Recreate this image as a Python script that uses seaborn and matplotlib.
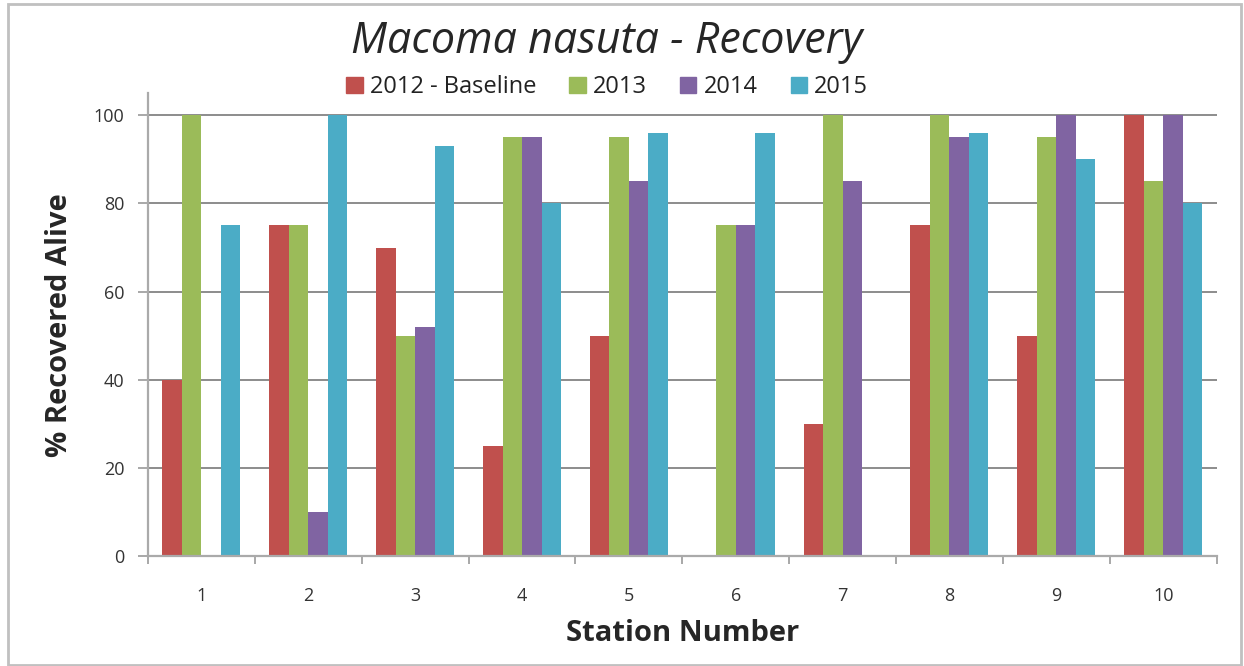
import pandas as pd
import matplotlib.pyplot as plt
import seaborn as sns
from matplotlib.patches import Rectangle
from matplotlib.ticker import MultipleLocator

# data
stations = ['1', '2', '3', '4', '5', '6', '7', '8', '9', '10']
years = ['2012 - Baseline', '2013', '2014', '2015']
y2012 = [40, 75, 70, 25, 50, 0, 30, 75, 50, 100]
y2013 = [100, 75, 50, 95, 95, 75, 100, 100, 95, 85]
y2014 = [0, 10, 52, 95, 85, 75, 85, 95, 100, 100]
y2015 = [75, 100, 93, 80, 96, 96, 0, 96, 90, 80]
colors = ['#C0504D', '#9BBB59', '#8064A2', '#4BACC6']

rows = []
for year, vals in zip(years, [y2012, y2013, y2014, y2015]):
    for st, v in zip(stations, vals):
        rows.append({'Station': st, 'Year': year, 'Value': v})
df = pd.DataFrame(rows)

sns.set_style('white')
plt.rcParams['font.family'] = ['Open Sans', 'DejaVu Sans']

fig = plt.figure(figsize=(12.44, 6.66), dpi=100)
ax = fig.add_axes([0.119, 0.165, 0.859, 0.695])

sns.barplot(data=df, x='Station', y='Value', hue='Year', order=stations,
            hue_order=years, palette=colors, width=0.73, saturation=1,
            linewidth=0, ax=ax)

ax.set_ylim(0, 105)
ax.set_xlim(-0.5, 9.5)
ax.set_yticks(range(0, 101, 20))
ax.yaxis.grid(True, color='#8c8c8c', linewidth=1.4)
ax.set_axisbelow(True)
ax.xaxis.set_minor_locator(MultipleLocator(1, offset=0.5))
ax.set_xticks(range(len(stations)))
ax.set_xticklabels(stations)
ax.tick_params(axis='x', which='major', length=0, pad=22, labelsize=13, labelcolor='#333333')
ax.tick_params(axis='x', which='minor', length=6, width=1.2, color='#999999', direction='out', bottom=True)
ax.tick_params(axis='y', length=7, width=1.2, color='#999999', direction='out', left=True,
               labelsize=13, labelcolor='#333333', pad=10)

for s in ['top', 'right']:
    ax.spines[s].set_visible(False)
for s in ['left', 'bottom']:
    ax.spines[s].set_color('#aaaaaa')
    ax.spines[s].set_linewidth(1.6)

ax.set_xlabel('Station Number', fontsize=21, fontweight='bold', labelpad=10)
ax.set_ylabel('% Recovered Alive', fontsize=21, fontweight='bold', labelpad=14)

ax.legend_.remove()
handles = [Rectangle((0, 0), 1, 1, color=c) for c in colors]
fig.legend(handles, years, loc='center', bbox_to_anchor=(0.488, 0.869), ncol=4,
           frameon=False, fontsize=17, handlelength=0.7, handleheight=0.7,
           handletextpad=0.3, columnspacing=1.4, labelcolor='#222222')

fig.text(0.488, 0.938, 'Macoma nasuta - Recovery', ha='center', va='center',
         fontsize=31, fontstyle='italic')

# outer chart border
fig.patches.append(Rectangle((0.0065, 0.002), 0.991, 0.992, transform=fig.transFigure,
                             fill=False, edgecolor='#c0c0c0', linewidth=2))

fig.savefig('out.png', dpi=100)
